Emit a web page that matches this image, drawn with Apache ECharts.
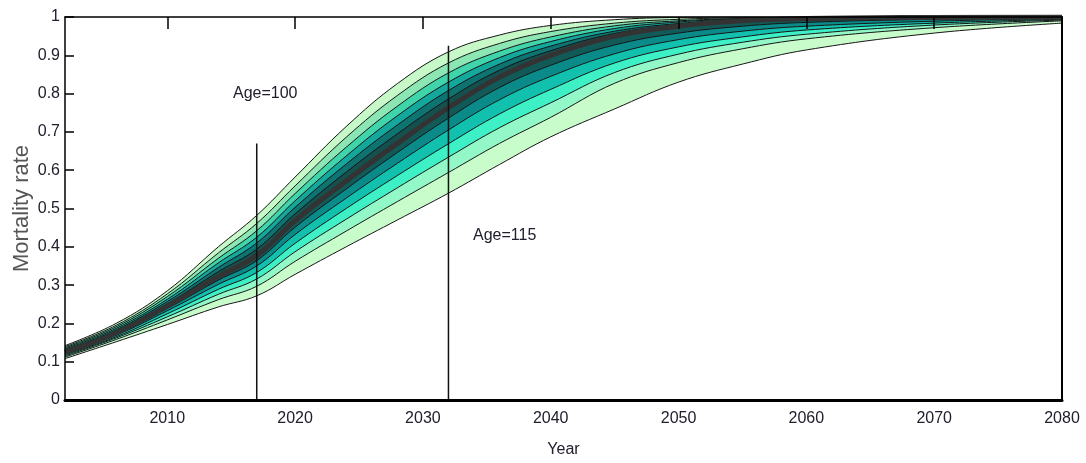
<!DOCTYPE html>
<html>
<head>
<meta charset="utf-8">
<title>Mortality rate fan chart</title>
<script src="https://cdn.jsdelivr.net/npm/echarts@6/dist/echarts.min.js"></script>
<style>
  html, body { margin: 0; padding: 0; background: #fff; }
  #chart { width: 1086px; height: 463px; }
</style>
</head>
<body>
<div id="chart"></div>
<script>
// years sampled along the fan
const years = [2002, 2006, 2010, 2014, 2017, 2020, 2024, 2028, 2032, 2036, 2040, 2045, 2050, 2055, 2060, 2070, 2080]

// contour curves, outer upper -> median -> outer lower
const upper1 = [0.142, 0.200, 0.285, 0.400, 0.482, 0.582, 0.714, 0.826, 0.909, 0.953, 0.978, 0.993, 0.999, 1.000, 1.000, 1.000, 1.000]
const upper2 = [0.139, 0.195, 0.277, 0.384, 0.461, 0.559, 0.686, 0.795, 0.880, 0.931, 0.962, 0.984, 0.994, 0.998, 0.999, 1.000, 1.000]
const upper3 = [0.136, 0.191, 0.270, 0.370, 0.442, 0.539, 0.660, 0.767, 0.854, 0.911, 0.948, 0.977, 0.990, 0.996, 0.998, 0.999, 1.000]
const upper4 = [0.133, 0.187, 0.263, 0.358, 0.425, 0.520, 0.637, 0.742, 0.830, 0.894, 0.936, 0.970, 0.987, 0.995, 0.998, 0.999, 1.000]
const upper5 = [0.130, 0.183, 0.257, 0.346, 0.410, 0.503, 0.616, 0.718, 0.808, 0.877, 0.924, 0.963, 0.983, 0.993, 0.997, 0.999, 1.000]
const upper6 = [0.128, 0.179, 0.251, 0.335, 0.394, 0.486, 0.595, 0.695, 0.786, 0.861, 0.912, 0.957, 0.980, 0.992, 0.997, 0.999, 1.000]
const median = [0.125, 0.175, 0.245, 0.322, 0.377, 0.468, 0.572, 0.670, 0.763, 0.843, 0.900, 0.950, 0.976, 0.990, 0.996, 0.999, 1.000]
const lower6 = [0.123, 0.172, 0.239, 0.313, 0.364, 0.451, 0.551, 0.646, 0.736, 0.816, 0.874, 0.927, 0.958, 0.976, 0.986, 0.994, 0.998]
const lower5 = [0.121, 0.169, 0.233, 0.302, 0.350, 0.432, 0.527, 0.618, 0.705, 0.784, 0.845, 0.904, 0.941, 0.963, 0.976, 0.989, 0.996]
const lower4 = [0.118, 0.165, 0.225, 0.289, 0.333, 0.409, 0.500, 0.586, 0.669, 0.747, 0.811, 0.880, 0.922, 0.948, 0.966, 0.984, 0.994]
const lower3 = [0.115, 0.162, 0.217, 0.276, 0.316, 0.387, 0.472, 0.554, 0.634, 0.711, 0.776, 0.855, 0.903, 0.934, 0.955, 0.979, 0.992]
const lower2 = [0.112, 0.158, 0.209, 0.262, 0.297, 0.362, 0.441, 0.518, 0.594, 0.670, 0.738, 0.827, 0.881, 0.917, 0.943, 0.972, 0.990]
const lower1 = [0.108, 0.152, 0.197, 0.243, 0.272, 0.328, 0.400, 0.470, 0.540, 0.615, 0.687, 0.760, 0.830, 0.877, 0.914, 0.958, 0.984]

// vertical age markers
const ageYears = [2017, 2032]
const ageTops = [0.67, 0.925]
const ageLabels = ['Age=100', 'Age=115']

// tick labels
const yearTicks = [2010, 2020, 2030, 2040, 2050, 2060, 2070, 2080]
const rateTicks = [0, 0.1, 0.2, 0.3, 0.4, 0.5, 0.6, 0.7, 0.8, 0.9, 1]

const chart = echarts.init(document.getElementById('chart'))
const pair = arr => years.map((y, i) => [y, arr[i]])
const FONT = '"Liberation Sans", Arial, sans-serif'
const TXT = '#20202e'

// each curve fills down to 0 with the colour of the band just below it,
// later curves paint over earlier ones
const layers = [
  [upper1, '#c6f8c8'],
  [upper2, '#8ce6b4'],
  [upper3, '#40d4aa'],
  [upper4, '#14a89c'],
  [upper5, '#0d7472'],
  [upper6, '#14504e'],
  [median, '#125a58'],
  [lower6, '#0a8a88'],
  [lower5, '#12c0ae'],
  [lower4, '#3ef0c6'],
  [lower3, '#92f8c8'],
  [lower2, '#c9fccb'],
  [lower1, '#ffffff']
]

const series = layers.map(([arr, color]) => ({
  type: 'line',
  data: pair(arr),
  symbol: 'none',
  smooth: 0.4,
  lineStyle: { color: '#161616', width: 1 },
  areaStyle: { color: color, opacity: 1, origin: 'start' },
  z: 2
}))

series.push({
  type: 'line',
  data: pair(median),
  symbol: 'none',
  smooth: 0.4,
  lineStyle: { color: '#333333', width: 5 },
  z: 3
})

ageYears.forEach((yr, i) => {
  series.push({
    type: 'line',
    data: [[yr, 0], [yr, ageTops[i]]],
    symbol: 'none',
    lineStyle: { color: '#111', width: 1.5 },
    z: 4
  })
})

const option = {
  animation: false,
  grid: { left: 65, right: 24, top: 17, bottom: 63, outerBoundsMode: 'none' },
  xAxis: [{
    type: 'value',
    min: 2002,
    max: 2080,
    position: 'bottom',
    z: 5,
    name: 'Year',
    nameLocation: 'middle',
    nameGap: 42,
    nameMoveOverlap: false,
    nameTextStyle: { fontFamily: FONT, fontSize: 16, color: TXT },
    axisLine: { show: true, onZero: false, lineStyle: { color: '#000', width: 3 } },
    axisTick: { show: false },
    splitLine: { show: false },
    axisLabel: {
      customValues: yearTicks,
      formatter: v => String(v),
      fontFamily: FONT,
      fontSize: 16,
      color: TXT,
      margin: 11
    }
  }, {
    type: 'value',
    min: 2002,
    max: 2080,
    position: 'top',
    z: 5,
    axisLine: { show: true, onZero: false, lineStyle: { color: '#000', width: 1.5 } },
    axisTick: { show: true, inside: true, length: 12, lineStyle: { color: '#000', width: 1.5 }, customValues: yearTicks },
    axisLabel: { show: true, customValues: yearTicks, color: 'rgba(0,0,0,0)' },
    splitLine: { show: false }
  }],
  yAxis: [{
    type: 'value',
    min: 0,
    max: 1,
    position: 'left',
    z: 5,
    name: 'Mortality rate',
    nameLocation: 'middle',
    nameGap: 32,
    nameMoveOverlap: false,
    nameTextStyle: { fontFamily: FONT, fontSize: 22, color: '#555' },
    axisLine: { show: true, onZero: false, lineStyle: { color: '#000', width: 1.5 } },
    axisTick: { inside: true, length: 9, lineStyle: { color: '#000', width: 1.5 }, customValues: rateTicks },
    splitLine: { show: false },
    axisLabel: {
      customValues: rateTicks,
      formatter: v => String(+v.toFixed(1)),
      fontFamily: FONT,
      fontSize: 16,
      color: TXT,
      margin: 5
    }
  }, {
    type: 'value',
    min: 0,
    max: 1,
    position: 'right',
    z: 5,
    axisLine: { show: true, onZero: false, lineStyle: { color: '#000', width: 2 } },
    axisTick: { show: false },
    axisLabel: { show: false },
    splitLine: { show: false }
  }],
  graphic: [
    { type: 'text', left: 233, top: 86, z: 10, style: { text: ageLabels[0], font: '16px ' + FONT, fill: TXT } },
    { type: 'text', left: 473, top: 228, z: 10, style: { text: ageLabels[1], font: '16px ' + FONT, fill: TXT } }
  ],
  series: series
}

chart.setOption(option)
</script>
</body>
</html>
